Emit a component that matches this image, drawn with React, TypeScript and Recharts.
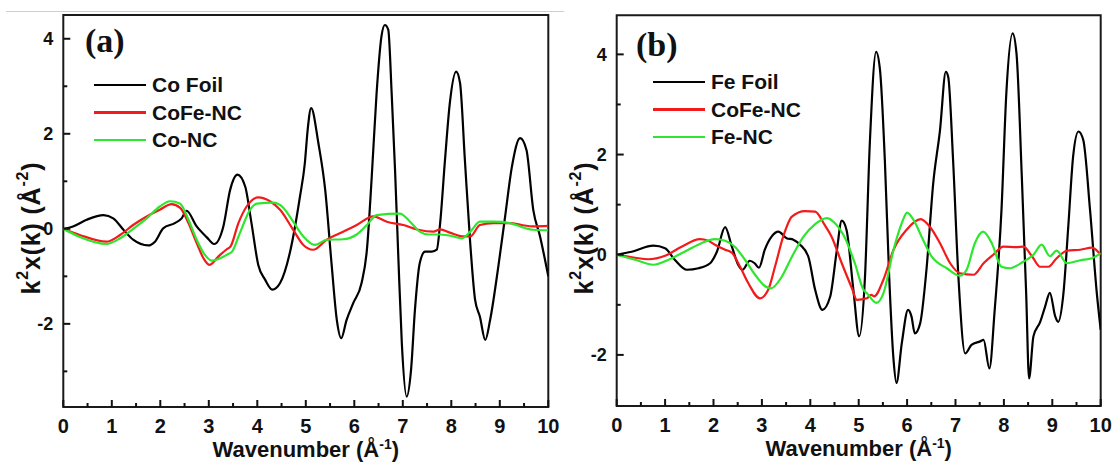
import { LineChart, Line, XAxis, YAxis, ReferenceArea, Legend } from 'recharts';

const FONT = "'Liberation Sans', Arial, sans-serif";
const INK = '#111';
const RED = '#f21a1a';
const GREEN = '#2ee62e';

const kTicks = [0, 0.5, 1, 1.5, 2, 2.5, 3, 3.5, 4, 4.5, 5, 5.5, 6, 6.5, 7, 7.5, 8, 8.5, 9, 9.5, 10];
const yTicksA = [-3, -2, -1, 0, 1, 2, 3, 4];
const yTicksB = [-2, -1, 0, 1, 2, 3, 4];

// panel (a): Co K-edge
const coFoilK = [0, 0.2, 0.48, 0.83, 1.03, 1.24, 1.44, 1.75, 1.89, 2.06, 2.3, 2.44, 2.54, 2.75, 2.96, 3.11, 3.3, 3.44, 3.59, 3.75, 3.88, 4.02, 4.16, 4.31, 4.47, 4.67, 4.88, 4.98, 5.04, 5.11, 5.26, 5.4, 5.53, 5.64, 5.73, 5.84, 5.98, 6.15, 6.26, 6.36, 6.46, 6.56, 6.63, 6.7, 6.77, 6.84, 6.91, 6.98, 7.08, 7.17, 7.25, 7.35, 7.46, 7.6, 7.7, 7.77, 7.87, 7.97, 8.1, 8.18, 8.28, 8.39, 8.49, 8.59, 8.7, 8.8, 8.97, 9.11, 9.25, 9.42, 9.55, 9.69, 9.83, 10];
const coFoilChi = [0, 0.05, 0.19, 0.29, 0.22, -0.02, -0.23, -0.35, -0.27, 0.01, 0.12, 0.22, 0.38, 0.05, -0.18, -0.32, 0.05, 0.82, 1.14, 0.89, 0.12, -0.76, -1.07, -1.28, -1.14, -0.51, 0.68, 1.38, 2.1, 2.54, 1.8, 0.82, -0.72, -1.92, -2.3, -1.92, -1.56, -1.14, -0.44, 1.1, 2.86, 4.05, 4.29, 4.19, 2.86, 1.24, -0.65, -2.41, -3.53, -2.97, -1.71, -0.72, -0.48, -0.48, -0.44, 0.12, 1.45, 2.65, 3.31, 3.07, 1.45, -0.3, -1.49, -1.85, -2.34, -1.92, -0.79, 0.26, 1.31, 1.91, 1.66, 0.4, -0.16, -1.0];

const coFeAK = [0, 0.34, 0.89, 1.17, 1.44, 1.72, 1.99, 2.23, 2.41, 2.58, 2.75, 2.89, 3.01, 3.2, 3.37, 3.45, 3.61, 3.78, 4.02, 4.26, 4.47, 4.74, 4.95, 5.15, 5.43, 5.77, 6.05, 6.39, 6.67, 7.01, 7.32, 7.63, 7.77, 7.97, 8.25, 8.39, 8.59, 8.87, 9.21, 9.45, 9.69, 10];
const coFeAChi = [0, -0.13, -0.27, -0.13, 0.08, 0.26, 0.4, 0.52, 0.44, 0.12, -0.3, -0.62, -0.76, -0.58, -0.43, -0.37, 0.12, 0.47, 0.66, 0.58, 0.4, -0.02, -0.34, -0.44, -0.23, -0.06, 0.08, 0.26, 0.15, 0.08, -0.02, -0.06, -0.01, -0.08, -0.16, -0.16, 0.08, 0.12, 0.12, 0.08, 0.05, 0.06];

const coNcK = [0, 0.34, 0.89, 1.17, 1.44, 1.72, 1.99, 2.2, 2.41, 2.58, 2.75, 2.92, 3.06, 3.23, 3.4, 3.48, 3.64, 3.85, 3.99, 4.33, 4.54, 4.74, 4.95, 5.19, 5.43, 5.77, 6.05, 6.26, 6.46, 6.94, 7.15, 7.35, 7.53, 7.77, 8.04, 8.21, 8.39, 8.59, 8.87, 9.21, 9.42, 9.69, 10];
const coNcChi = [0, -0.17, -0.32, -0.2, 0.0, 0.22, 0.47, 0.58, 0.53, 0.19, -0.23, -0.55, -0.67, -0.62, -0.53, -0.48, -0.09, 0.4, 0.53, 0.55, 0.44, 0.15, -0.16, -0.34, -0.23, -0.22, -0.12, 0.08, 0.29, 0.32, 0.15, -0.06, -0.12, -0.12, -0.16, -0.2, -0.06, 0.15, 0.15, 0.12, 0.05, -0.02, -0.03];

// panel (b): Fe K-edge
const feFoilK = [0, 0.31, 0.76, 1.0, 1.2, 1.45, 1.69, 1.93, 2.07, 2.24, 2.38, 2.51, 2.6, 2.75, 2.85, 2.94, 3.06, 3.2, 3.34, 3.51, 3.65, 3.79, 3.96, 4.1, 4.25, 4.41, 4.55, 4.65, 4.75, 4.89, 5.01, 5.13, 5.23, 5.36, 5.44, 5.54, 5.63, 5.72, 5.78, 5.89, 6.02, 6.09, 6.16, 6.27, 6.4, 6.54, 6.68, 6.8, 6.85, 6.95, 7.06, 7.2, 7.33, 7.51, 7.58, 7.7, 7.81, 7.95, 8.05, 8.18, 8.26, 8.37, 8.46, 8.52, 8.61, 8.75, 8.85, 8.95, 9.06, 9.12, 9.23, 9.33, 9.43, 9.54, 9.64, 9.78, 9.92, 10];
const feFoilChi = [0, 0.06, 0.18, 0.13, -0.1, -0.3, -0.27, -0.17, 0.06, 0.55, 0.16, -0.2, -0.3, -0.12, -0.17, -0.26, 0.1, 0.36, 0.46, 0.33, 0.3, 0.2, -0.04, -0.7, -1.1, -0.84, 0.1, 0.68, 0.49, -0.7, -1.63, -0.44, 2.23, 4.05, 3.69, 1.89, -0.44, -2.1, -2.56, -1.77, -1.1, -1.23, -1.57, -1.37, -0.3, 1.43, 2.49, 3.65, 3.55, 1.89, -0.44, -1.97, -1.8, -1.73, -1.7, -2.27, -1.1, 0.89, 3.22, 4.42, 4.02, 1.56, -0.77, -2.47, -1.63, -1.34, -1.04, -0.76, -1.23, -1.34, -0.77, 0.56, 1.96, 2.46, 2.29, 0.89, -0.77, -1.5];

const coFeBK = [0, 0.38, 0.65, 1.0, 1.34, 1.72, 1.89, 2.03, 2.24, 2.38, 2.55, 2.72, 2.96, 3.13, 3.27, 3.44, 3.62, 3.89, 4.1, 4.3, 4.44, 4.65, 4.86, 4.96, 5.17, 5.26, 5.32, 5.51, 5.72, 5.99, 6.28, 6.47, 6.68, 6.89, 7.09, 7.37, 7.58, 7.78, 7.99, 8.26, 8.4, 8.58, 8.75, 8.92, 9.09, 9.3, 9.58, 9.82, 10];
const coFeBChi = [0, -0.06, -0.09, -0.02, 0.16, 0.31, 0.28, 0.2, 0.1, 0.04, -0.24, -0.57, -0.87, -0.7, -0.24, 0.36, 0.76, 0.87, 0.86, 0.59, 0.36, -0.17, -0.67, -0.9, -0.87, -0.8, -0.83, -0.5, 0.1, 0.5, 0.71, 0.56, 0.23, -0.17, -0.37, -0.4, -0.17, 0.0, 0.16, 0.15, 0.16, -0.03, -0.24, -0.24, -0.07, 0.08, 0.1, 0.14, 0.0];

const feNcK = [0, 0.38, 0.76, 1.07, 1.48, 1.75, 2.03, 2.24, 2.44, 2.65, 2.86, 3.03, 3.19, 3.41, 3.62, 3.86, 4.1, 4.34, 4.51, 4.72, 4.92, 5.1, 5.17, 5.37, 5.51, 5.72, 5.89, 6.0, 6.13, 6.3, 6.51, 6.82, 7.09, 7.23, 7.4, 7.57, 7.75, 7.95, 8.12, 8.4, 8.61, 8.78, 8.95, 9.09, 9.3, 9.58, 9.82, 10];
const feNcChi = [0, -0.1, -0.2, -0.1, 0.1, 0.23, 0.31, 0.28, 0.16, -0.1, -0.4, -0.6, -0.67, -0.44, -0.04, 0.36, 0.61, 0.73, 0.63, 0.33, -0.17, -0.7, -0.77, -0.96, -0.77, 0.1, 0.63, 0.84, 0.7, 0.36, -0.04, -0.27, -0.42, -0.3, 0.23, 0.46, 0.23, -0.24, -0.27, -0.14, 0.0, 0.2, -0.03, 0.08, -0.17, -0.11, -0.07, 0.03];

const toPoints = (k: number[], chi: number[]) => k.map((x, i) => ({ k: x, chi: chi[i] }));

interface Series {
  name: string;
  color: string;
  points: { k: number; chi: number }[];
}

const seriesA: Series[] = [
  { name: 'Co Foil', color: '#000', points: toPoints(coFoilK, coFoilChi) },
  { name: 'CoFe-NC', color: RED, points: toPoints(coFeAK, coFeAChi) },
  { name: 'Co-NC', color: GREEN, points: toPoints(coNcK, coNcChi) },
];

const seriesB: Series[] = [
  { name: 'Fe Foil', color: '#000', points: toPoints(feFoilK, feFoilChi) },
  { name: 'CoFe-NC', color: RED, points: toPoints(coFeBK, coFeBChi) },
  { name: 'Fe-NC', color: GREEN, points: toPoints(feNcK, feNcChi) },
];

function XTick({ x, y, payload }: any) {
  const v = payload.value as number;
  const major = Number.isInteger(v);
  return (
    <g>
      <line x1={x} x2={x} y1={y} y2={y - (major ? 7 : 4)} stroke={INK} strokeWidth={2} />
      {major && (
        <text x={x} y={y + 26} textAnchor="middle" fontSize={20} fontWeight="bold" fill={INK} fontFamily={FONT}>
          {v}
        </text>
      )}
    </g>
  );
}

function YTick({ x, y, payload }: any) {
  const v = payload.value as number;
  const major = v % 2 === 0;
  return (
    <g>
      <line x1={x} x2={x + (major ? 7 : 4)} y1={y} y2={y} stroke={INK} strokeWidth={2} />
      {major && (
        <text x={x - 10} y={y + 6.5} textAnchor="end" fontSize={18} fontWeight="bold" fill={INK} fontFamily={FONT}>
          {v}
        </text>
      )}
    </g>
  );
}

function XTitle({ viewBox }: any) {
  const cx = viewBox.x + viewBox.width / 2;
  return (
    <text x={cx} y={viewBox.y + 50} textAnchor="middle" fontSize={22} fontWeight="bold" fill={INK} fontFamily={FONT}>
      Wavenumber (Å<tspan dy={-8} fontSize={14}>-1</tspan>
      <tspan dy={8}>)</tspan>
    </text>
  );
}

function YTitle({ viewBox }: any) {
  const cx = viewBox.x + 27.5;
  const cy = 228;
  return (
    <text
      transform={`translate(${cx},${cy}) rotate(-90)`}
      textAnchor="middle"
      dominantBaseline="central"
      fontSize={25}
      fontWeight="bold"
      letterSpacing={0.8}
      fill={INK}
      fontFamily={FONT}
    >
      k<tspan dy={-9} fontSize={16}>2</tspan>
      <tspan dy={9}>x(k) (Å</tspan>
      <tspan dy={-9} fontSize={16}>-2</tspan>
      <tspan dy={9}>)</tspan>
    </text>
  );
}

// legend keeps the series order (recharts would sort the payload by name)
function LegendBox({ items }: { items: Series[] }) {
  return (
    <div style={{ display: 'flex', flexDirection: 'column' }}>
      {items.map((item) => (
        <div key={item.name} style={{ display: 'flex', alignItems: 'center', height: 27.5 }}>
          <span style={{ width: 52, height: 2.5, background: item.color, marginRight: 6 }} />
          <span style={{ fontFamily: FONT, fontWeight: 'bold', fontSize: 21, color: INK, lineHeight: '27.5px' }}>
            {item.name}
          </span>
        </div>
      ))}
    </div>
  );
}

interface PanelProps {
  series: Series[];
  domain: [number, number];
  yTicks: number[];
  margin: { top: number; right: number; bottom: number; left: number };
  legendPos: { left: number; top: number };
}

function Panel({ series, domain, yTicks, margin, legendPos }: PanelProps) {
  return (
    <LineChart width={560} height={462} margin={margin}>
      <XAxis
        type="number"
        dataKey="k"
        domain={[0, 10]}
        ticks={kTicks}
        interval={0}
        allowDataOverflow
        axisLine={false}
        tickLine={false}
        tickSize={0}
        tickMargin={0}
        tick={<XTick />}
        label={<XTitle />}
      />
      <YAxis
        type="number"
        dataKey="chi"
        domain={domain}
        ticks={yTicks}
        interval={0}
        allowDataOverflow
        axisLine={false}
        tickLine={false}
        tickSize={0}
        tickMargin={0}
        tick={<YTick />}
        label={<YTitle />}
      />
      {series.map((s) => (
        <Line
          key={s.name + s.color}
          data={s.points}
          dataKey="chi"
          name={s.name}
          type="monotone"
          stroke={s.color}
          strokeWidth={2.2}
          dot={false}
          activeDot={false}
          isAnimationActive={false}
        />
      ))}
      <ReferenceArea x1={0} x2={10} y1={domain[0]} y2={domain[1]} fill="none" fillOpacity={0} stroke="#1a1a1a" strokeWidth={2} />
      <Legend
        layout="vertical"
        align="center"
        verticalAlign="middle"
        content={<LegendBox items={series} />}
        wrapperStyle={{ left: legendPos.left, top: legendPos.top, width: 'auto', height: 'auto' }}
      />
    </LineChart>
  );
}

const tagStyle: React.CSSProperties = {
  position: 'absolute',
  fontFamily: "'Liberation Serif', 'Times New Roman', serif",
  fontWeight: 'bold',
  fontSize: 34,
  lineHeight: '34px',
  color: INK,
};

export default function App() {
  return (
    <div style={{ position: 'absolute', left: 0, top: 0, width: 1116, height: 462, background: '#fff', overflow: 'hidden' }}>
      <div style={{ position: 'absolute', left: 6, top: 11, width: 558, height: 1, background: '#cfcfcf' }} />
      <div style={{ position: 'absolute', left: 0, top: 0 }}>
        <Panel
          series={seriesA}
          domain={[-3.75, 4.5]}
          yTicks={yTicksA}
          margin={{ top: 15, right: 11.7, bottom: 25, left: 3.3 }}
          legendPos={{ left: 94, top: 71 }}
        />
      </div>
      <div style={{ position: 'absolute', left: 556, top: 0 }}>
        <Panel
          series={seriesB}
          domain={[-3.02, 4.78]}
          yTicks={yTicksB}
          margin={{ top: 15.3, right: 15.3, bottom: 26, left: 0.7 }}
          legendPos={{ left: 97, top: 68 }}
        />
      </div>
      <div style={{ ...tagStyle, left: 85, top: 24 }}>(a)</div>
      <div style={{ ...tagStyle, left: 636, top: 28 }}>(b)</div>
    </div>
  );
}
